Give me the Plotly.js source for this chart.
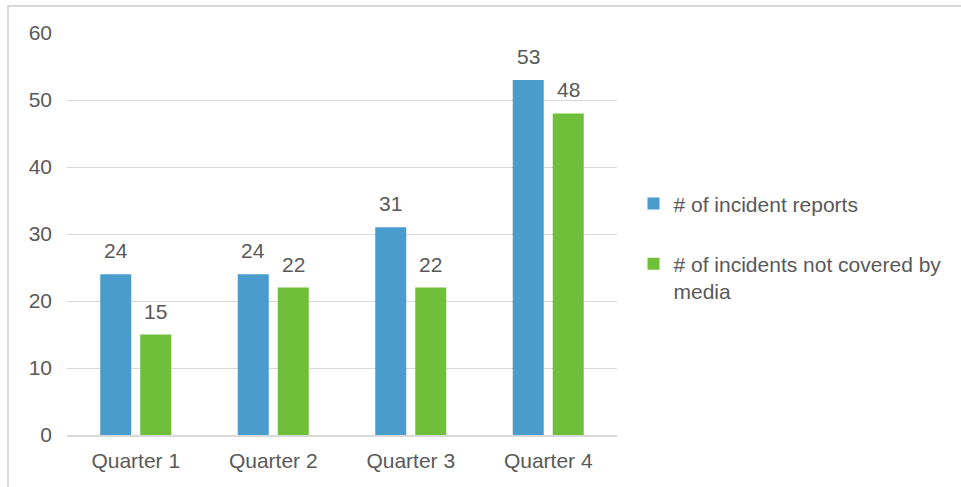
<!DOCTYPE html>
<html>
<head>
<meta charset="utf-8">
<script src="https://cdn.plot.ly/plotly-3.0.1.min.js"></script>
<style>
html, body { margin: 0; padding: 0; background: #fff; }
#wrap { position: relative; width: 961px; height: 487px; overflow: hidden; }
#chart { position: absolute; left: 0; top: 0; width: 961px; height: 487px; }
#frame { position: absolute; left: 7px; top: 5px; width: 1000px; height: 600px; border-left: 2px solid #d9d9d9; border-top: 2px solid #d9d9d9; pointer-events: none; }
</style>
</head>
<body>
<div id="wrap">
<div id="chart"></div>
<div id="frame"></div>
</div>
<script>
const categories = ["Quarter 1", "Quarter 2", "Quarter 3", "Quarter 4"];
const incidentReports = [24, 24, 31, 53];
const notCoveredByMedia = [15, 22, 22, 48];
const seriesNames = ["# of incident reports", "# of incidents not covered by<br>media"];
const yTicks = [0, 10, 20, 30, 40, 50, 60];

const blue = "#4a9ccc";
const green = "#6fbf3b";
const textColor = "#595959";
const font = { family: "Liberation Sans, Arial, sans-serif", size: 21, color: textColor };

const traces = [
  { type: "bar", name: seriesNames[0], x: categories, y: incidentReports,
    marker: { color: blue }, legendgroup: "a", hoverinfo: "x+y" },
  { type: "bar", name: seriesNames[1], x: categories, y: notCoveredByMedia,
    marker: { color: green }, legendgroup: "b", hoverinfo: "x+y" }
];

const annotations = [];
[incidentReports, notCoveredByMedia].forEach((vals, si) => {
  vals.forEach((v, i) => {
    annotations.push({
      x: categories[i], y: v, xref: "x", yref: "y",
      text: String(v), showarrow: false, yanchor: "bottom",
      xshift: si === 0 ? -20 : 20, yshift: 10, font: font
    });
  });
});

const layout = {
  width: 961, height: 487,
  margin: { l: 67, r: 344, t: 33, b: 52, autoexpand: false },
  paper_bgcolor: "#fff", plot_bgcolor: "#fff",
  font: font,
  barmode: "group", bargap: 0.418, bargroupgap: 0.225,
  xaxis: { type: "category", showgrid: false, showline: true, linecolor: "#d9d9d9", linewidth: 2,
           ticks: "", tickfont: font, ticklabelstandoff: 6, fixedrange: true },
  yaxis: { range: [0, 60], tickvals: yTicks, showgrid: true, gridcolor: "#d9d9d9", gridwidth: 1,
           zeroline: false, showline: false, ticks: "", tickfont: font, ticklabelstandoff: 14, fixedrange: true },
  showlegend: true,
  legend: { x: 1.03, xanchor: "left", y: 0.626, yanchor: "top", font: font,
            traceorder: "grouped", tracegroupgap: 30, valign: "top", bgcolor: "rgba(0,0,0,0)" },
  annotations: annotations
};

Plotly.newPlot("chart", traces, layout, { displayModeBar: false, staticPlot: true });
</script>
</body>
</html>
